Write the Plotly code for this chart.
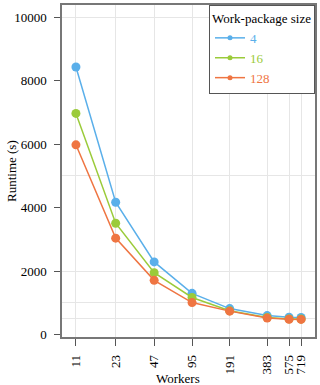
import plotly.graph_objects as go

# 数据
workers = [11, 23, 47, 95, 191, 383, 575, 719]
worker_labels = [str(w) for w in workers]

runtime_4 = [8430, 4170, 2290, 1300, 820, 600, 550, 540]
runtime_16 = [6970, 3510, 1950, 1170, 750, 540, 495, 490]
runtime_128 = [5980, 3040, 1710, 1010, 740, 520, 485, 480]

sizes = ["4", "16", "128"]
colors = ["#5AAFEA", "#9BCB3A", "#EF7542"]

y_ticks = [0, 2000, 4000, 6000, 8000, 10000]
y_grid = [500, 1000, 2000, 5000, 10000]

FONT = "Liberation Serif, Times New Roman, serif"
tick_font = dict(family=FONT, size=13, color="black")

fig = go.Figure()

for size, values, color in zip(sizes, [runtime_4, runtime_16, runtime_128], colors):
    fig.add_trace(go.Scatter(
        x=workers,
        y=values,
        mode="lines+markers",
        showlegend=False,
        line=dict(color=color, width=1.5),
        marker=dict(color=color, size=9),
    ))
    # 图例用的小标记
    fig.add_trace(go.Scatter(
        x=[None],
        y=[None],
        mode="lines+markers",
        name=f"<span style='color:{color}'>{size}</span>",
        line=dict(color=color, width=1.5),
        marker=dict(color=color, size=5),
    ))

# 轴标题用注释放置
fig.add_annotation(text="Workers", xref="paper", yref="paper", x=0.46, y=0,
                   yshift=-41, showarrow=False, yanchor="middle",
                   font=dict(family=FONT, size=13, color="black"))
fig.add_annotation(text="Runtime (s)", xref="paper", yref="paper", x=0, y=0.5,
                   xshift=-51, textangle=-90, showarrow=False, xanchor="center",
                   font=dict(family=FONT, size=13, color="black"))

fig.update_layout(
    width=320,
    height=385,
    margin=dict(l=62, r=4, t=3, b=48),
    paper_bgcolor="white",
    plot_bgcolor="white",
    font=dict(family=FONT, size=13, color="black"),
    legend=dict(
        title=dict(text="Work-package size", side="top", font=dict(family=FONT, size=13)),
        x=1, y=1, xanchor="right", yanchor="top",
        bgcolor="white",
        bordercolor="#555555",
        borderwidth=1,
        font=dict(family=FONT, size=13),
        itemwidth=30,
        tracegroupgap=0,
    ),
    xaxis=dict(
        type="log",
        range=[0.929, 2.969],
        tickvals=workers,
        ticktext=worker_labels,
        tickangle=-90,
        tickfont=tick_font,
        ticks="outside",
        ticklen=7,
        tickcolor="#555555",
        ticklabelstandoff=4,
        showline=True,
        mirror=True,
        linecolor="#777777",
        linewidth=1.5,
        showgrid=True,
        gridcolor="#e6e6e6",
        zeroline=False,
    ),
    yaxis=dict(
        range=[-75, 10385],
        tickvals=y_ticks,
        tickformat="d",
        tickfont=tick_font,
        ticks="outside",
        ticklen=6,
        tickcolor="#555555",
        ticklabelstandoff=5,
        showline=True,
        mirror=True,
        linecolor="#777777",
        linewidth=1.5,
        showgrid=False,
        zeroline=False,
        minor=dict(tickvals=y_grid, showgrid=True, gridcolor="#e6e6e6", ticks=""),
    ),
)

fig.write_html("out.html", config={"displayModeBar": False},
               post_script="document.body.style.margin='0';")
